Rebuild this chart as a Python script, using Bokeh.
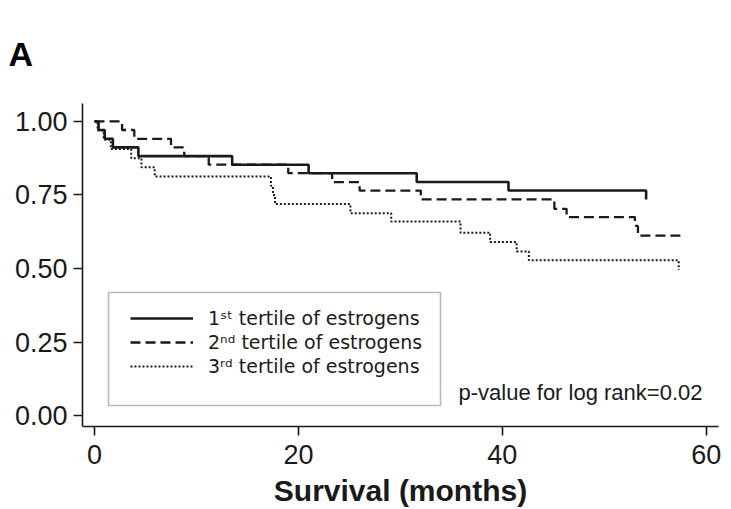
from bokeh.plotting import figure
from bokeh.models import (Legend, LegendItem, Label, BoxAnnotation, FixedTicker,
                          NumeralTickFormatter, Range1d)
from bokeh.embed import file_html
from bokeh.resources import INLINE

# ---- data ----
months_t1 = [0, 0.4, 1.0, 1.8, 4.3, 13.5, 21.0, 31.6, 40.6, 54.1]
surv_t1 = [1.0, 0.971, 0.941, 0.912, 0.882, 0.853, 0.824, 0.794, 0.765, 0.735]

months_t2 = [0, 2.7, 3.9, 7.5, 8.8, 11.2, 19.0, 23.3, 26.0, 32.0, 45.1, 46.3, 53.0, 53.3, 57.7]
surv_t2 = [1.0, 0.971, 0.941, 0.912, 0.882, 0.853, 0.824, 0.794, 0.765, 0.735, 0.703, 0.675, 0.645, 0.612, 0.612]

months_t3 = [0, 0.3, 0.9, 1.6, 3.6, 4.6, 5.9, 17.3, 17.5, 17.7, 25.1, 29.1, 35.9, 38.8, 41.4, 42.6, 57.3]
surv_t3 = [1.0, 0.969, 0.938, 0.906, 0.875, 0.844, 0.813, 0.781, 0.750, 0.719, 0.688, 0.660, 0.622, 0.590, 0.558, 0.528, 0.495]

series_labels = ["1ˢᵗ tertile of estrogens", "2ⁿᵈ tertile of estrogens", "3ʳᵈ tertile of estrogens"]
x_ticks = [0, 20, 40, 60]
y_ticks = [0.0, 0.25, 0.50, 0.75, 1.0]
x_title = "Survival (months)"
panel_letter = "A"
pvalue_text = "p-value for log rank=0.02"

INK = "#1a1a1a"
FONT = "Liberation Sans"

p = figure(width=731, height=509, output_backend="svg", toolbar_location=None,
           x_range=Range1d(-1.18, 61.2), y_range=Range1d(-0.037, 1.061),
           min_border_left=82, min_border_right=13, min_border_top=103, min_border_bottom=83)
p.xgrid.visible = False
p.ygrid.visible = False
p.outline_line_color = None
p.background_fill_color = "white"
p.border_fill_color = "white"

# panel letter as title
p.title.text = panel_letter
p.title.text_font = FONT
p.title.text_font_size = "34px"
p.title.text_font_style = "bold"
p.title.text_color = "black"
p.title.align = "left"
p.title.offset = -74
p.title.standoff = 62

r1 = p.step(months_t1, surv_t1, mode="after", line_color=INK, line_width=2.6)
r2 = p.step(months_t2, surv_t2, mode="after", line_color=INK, line_width=2.3, line_dash="10 5")
r3 = p.step(months_t3, surv_t3, mode="after", line_color=INK, line_width=2.0, line_dash="2 2")

for ax in (p.xaxis[0], p.yaxis[0]):
    ax.axis_line_color = INK
    ax.axis_line_width = 1.6
    ax.major_tick_line_color = INK
    ax.major_tick_line_width = 1.6
    ax.major_tick_out = 9
    ax.major_tick_in = 0
    ax.minor_tick_line_color = None
    ax.major_label_text_font = FONT
    ax.major_label_text_font_size = "27px"
    ax.major_label_text_color = INK

p.xaxis.ticker = FixedTicker(ticks=x_ticks)
p.yaxis.ticker = FixedTicker(ticks=y_ticks)
p.yaxis.formatter = NumeralTickFormatter(format="0.00")
p.yaxis.major_label_standoff = 6
p.xaxis.major_label_standoff = 9
p.xaxis.axis_label = x_title
p.xaxis.axis_label_text_font = FONT
p.xaxis.axis_label_text_font_style = "bold"
p.xaxis.axis_label_text_font_size = "30px"
p.xaxis.axis_label_text_color = INK
p.xaxis.axis_label_standoff = 7

# legend frame
box = BoxAnnotation(left=26, right=358, bottom=21, top=134,
                    left_units="screen", right_units="screen",
                    top_units="screen", bottom_units="screen",
                    fill_color=None, line_color=INK, line_width=1.6)
p.add_layout(box)

# one single-row legend per series, stacked as in the reference
row_bottoms = [95, 71, 47]
for lab, rend, yb in zip(series_labels, [r1, r2, r3], row_bottoms):
    lg = Legend(items=[LegendItem(label=lab, renderers=[rend])],
                location=(48, yb), border_line_color=None, background_fill_alpha=0,
                padding=0, spacing=0, margin=0, glyph_width=63, glyph_height=26,
                label_height=26, label_standoff=15, label_text_font="DejaVu Sans",
                label_text_font_size="19px", label_text_color=INK)
    p.add_layout(lg)

p.add_layout(Label(x=376, y=34, x_units="screen", y_units="screen", text=pvalue_text,
                   text_font=FONT, text_font_size="22px", text_color=INK,
                   text_baseline="middle", text_align="left"))

open("out.html", "w").write(file_html(p, INLINE))
